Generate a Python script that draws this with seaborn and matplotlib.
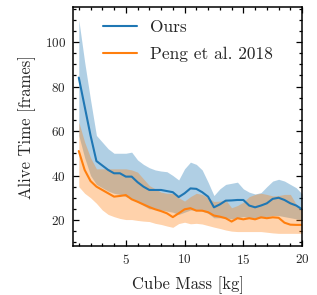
import numpy as np
import pandas as pd
import matplotlib
matplotlib.use("Agg")
import matplotlib.pyplot as plt
from matplotlib.ticker import MultipleLocator
import seaborn as sns

# -----------------------------
# Data
# -----------------------------
mass = [1, 1.5, 2, 2.5, 3, 3.5, 4, 4.5, 5, 5.5, 6, 6.5, 7, 7.5, 8, 8.5, 9, 9.5, 10,
        10.5, 11, 11.5, 12, 12.5, 13, 13.5, 14, 14.5, 15, 15.5, 16, 16.5, 17,
        17.5, 18, 18.5, 19, 19.5, 20]

ours_mean = [84, 71, 58, 46.5, 44.5, 42.5, 41, 41, 39.5, 39.5, 37, 35, 33.5, 33.5,
             33.5, 33, 32.5, 30.3, 32, 34.2, 34, 32.5, 30.5, 25.7, 27, 28.7, 28.8,
             29, 29, 26.5, 25.7, 26.5, 27.5, 29.5, 30, 29, 27.5, 26.5, 24.8]
ours_upper = [110, 91, 74, 58, 55, 52, 50, 50, 50, 50.5, 47, 45, 43.5, 42.5, 42,
              41.7, 40, 38, 43, 46, 45, 42.5, 37, 31, 34, 36, 36.5, 37, 34, 32.5,
              31.7, 32.3, 35, 37.5, 38.3, 37.5, 36, 34.5, 31.7]
ours_lower = [58, 48, 40, 36, 34.5, 33, 32, 31.5, 30.5, 29.5, 28, 26.5, 25, 25,
              24.5, 24, 23.5, 22.5, 23.5, 24.5, 24.5, 24, 23, 21, 21, 21, 20.5, 21,
              21.5, 21, 20.5, 21, 21.5, 22, 22, 21.5, 21, 20.5, 20]

peng_mean = [51, 42.5, 37.5, 35, 33.5, 32, 30.5, 30.8, 31.2, 29.3, 28.2, 27, 25.8,
             24.8, 24, 23, 21.3, 23, 24.8, 25.3, 24.2, 24.2, 23.5, 22, 21.5, 20.8,
             19.3, 20.8, 20.3, 20.8, 20.3, 21.2, 20.8, 21.2, 21, 18.8, 17.9, 17.8,
             17.8]
peng_upper = [64, 55, 48, 43, 43, 43, 43, 43, 43, 42.5, 41.5, 38.5, 35.5, 34, 32.5,
              32, 32, 30, 28.5, 30.5, 32, 31.5, 30, 28.3, 28.5, 29, 25.5, 26.5, 28,
              30.5, 31.5, 32, 31.5, 30.8, 31, 31.5, 31.5, 27, 24.5]
peng_lower = [35, 32, 30, 27.5, 24.5, 22.5, 21.5, 20.7, 20.2, 20.2, 19.8, 19.5,
              19.3, 18.5, 18, 17.3, 16.7, 18.4, 19, 18.3, 18.5, 18.2, 17.5, 16.8,
              16.2, 15.5, 15, 14.8, 14.8, 14.8, 14.8, 14.8, 14.5, 14.2, 14, 14, 14,
              14, 14]

labels = ["Ours", "Peng et al. 2018"]
colors = ["#1f77b4", "#ff7f0e"]

df = pd.DataFrame({
    "mass": mass * 2,
    "alive": ours_mean + peng_mean,
    "method": [labels[0]] * len(mass) + [labels[1]] * len(mass),
})

# -----------------------------
# Style
# -----------------------------
sns.set_style("ticks")
plt.rcParams["font.family"] = ["cmr10", "DejaVu Serif"]
plt.rcParams["mathtext.fontset"] = "cm"
plt.rcParams["axes.formatter.use_mathtext"] = True
plt.rcParams["axes.unicode_minus"] = False

fig = plt.figure(figsize=(3.17, 2.95), dpi=100)
ax = fig.add_axes([0.230, 0.166, 0.723, 0.810])

# bands
ax.fill_between(mass, ours_lower, ours_upper, color=colors[0], alpha=0.35, lw=0)
ax.fill_between(mass, peng_lower, peng_upper, color=colors[1], alpha=0.35, lw=0)

# mean lines
sns.lineplot(data=df, x="mass", y="alive", hue="method", palette=colors,
             linewidth=1.5, ax=ax)

ax.set_xlim(0.5, 20)
ax.set_ylim(8.3, 115.7)
ax.xaxis.set_major_locator(MultipleLocator(5))
ax.xaxis.set_minor_locator(MultipleLocator(1))
ax.yaxis.set_major_locator(MultipleLocator(20))
ax.yaxis.set_minor_locator(MultipleLocator(5))
ax.tick_params(which="both", direction="in", top=True, right=True,
               labelsize=9.5, width=0.9, color="black", pad=5)
ax.tick_params(which="major", length=4)
ax.tick_params(which="minor", length=2)
for s in ax.spines.values():
    s.set_linewidth(1.1)
    s.set_color("black")

ax.set_xlabel("Cube Mass [kg]", fontsize=12, labelpad=7)
ax.set_ylabel("Alive Time [frames]", fontsize=12, labelpad=6)

leg = ax.legend(loc="upper center", frameon=False, fontsize=12.5,
                handlelength=2.0, handletextpad=0.7, labelspacing=0.65,
                borderaxespad=0.35)
leg.set_title(None)

fig.savefig("out.png", dpi=100)
